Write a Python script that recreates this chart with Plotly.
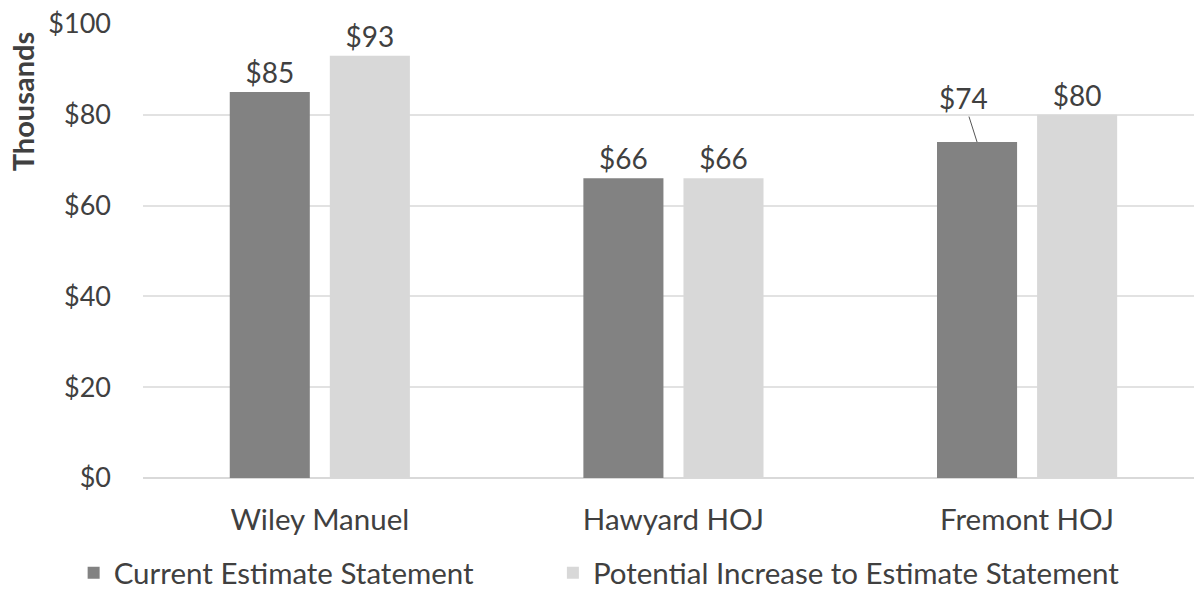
import plotly.graph_objects as go

# Chart data (values in thousands of dollars)
sites = ["Wiley Manuel", "Hawyard HOJ", "Fremont HOJ"]
current_estimate = [85, 66, 74]
potential_increase = [93, 66, 80]
y_ticks = [0, 20, 40, 60, 80, 100]
y_tick_labels = ["$0", "$20", "$40", "$60", "$80", "$100"]

DARK = "#828282"
LIGHT = "#d8d8d8"
TEXT = "#404040"
FONT = "Lato, 'Open Sans', sans-serif"

x_idx = list(range(len(sites)))

# label text for the current-estimate series; the Fremont label is drawn with a leader line instead
cur_text = [f"${v}" for v in current_estimate]
cur_text[2] = ""

fig = go.Figure()
fig.add_trace(go.Bar(
    x=x_idx, y=current_estimate, name="Current Estimate Statement",
    marker=dict(color=DARK, line=dict(width=0)),
    text=cur_text, textposition="outside", cliponaxis=False,
    textfont=dict(size=28, color=TEXT, family=FONT),
    legend="legend",
))
fig.add_trace(go.Bar(
    x=x_idx, y=potential_increase, name="Potential Increase to Estimate Statement",
    marker=dict(color=LIGHT, line=dict(width=0)),
    text=[f"${v}" for v in potential_increase], textposition="outside", cliponaxis=False,
    textfont=dict(size=28, color=TEXT, family=FONT),
    legend="legend2",
))

# offset label with leader line for Fremont HOJ current estimate
group_offset = 100 / 353.5 / 2
fig.add_annotation(
    x=2 - group_offset, y=current_estimate[2], xref="x", yref="y",
    text=f"${current_estimate[2]}", showarrow=True, arrowhead=0, arrowwidth=1,
    arrowcolor="#555555", ax=-14, ay=-44, standoff=0,
    font=dict(size=28, color=TEXT, family=FONT),
)

# y axis title placed near the top of the axis
fig.add_annotation(
    text="<b>Thousands</b>", textangle=-90, xref="paper", yref="paper",
    x=-0.115, y=0.83, showarrow=False, xanchor="center", yanchor="middle",
    font=dict(size=29, color=TEXT, family=FONT),
)

legend_style = dict(
    orientation="h", xanchor="left", yref="container", y=0.032, yanchor="middle",
    font=dict(size=29.5, color=TEXT, family=FONT),
    itemwidth=30, bgcolor="rgba(0,0,0,0)",
)

fig.update_layout(
    width=1194, height=592,
    margin=dict(l=143, r=0, t=24, b=114, autoexpand=False),
    paper_bgcolor="white", plot_bgcolor="white",
    barmode="group", bargap=0.434, bargroupgap=0.2,
    font=dict(family=FONT, color=TEXT),
    showlegend=True,
    legend=dict(x=-0.066, **legend_style),
    legend2=dict(x=0.39, **legend_style),
    xaxis=dict(
        tickmode="array", tickvals=x_idx, ticktext=sites,
        range=[-0.5, 2.472], showgrid=False, zeroline=False,
        showline=False, ticks="", tickfont=dict(size=29.5, color=TEXT, family=FONT),
        ticklabelstandoff=21,
    ),
    yaxis=dict(
        range=[0, 100], tickmode="array", tickvals=y_ticks, ticktext=y_tick_labels,
        showgrid=True, gridcolor="#e2e2e2", gridwidth=1.5,
        zeroline=True, zerolinecolor="#d9d9d9", zerolinewidth=1.5,
        showline=False, ticks="", tickfont=dict(size=27, color=TEXT, family=FONT),
        ticklabelstandoff=31,
    ),
)

fig.write_html("out.html")
